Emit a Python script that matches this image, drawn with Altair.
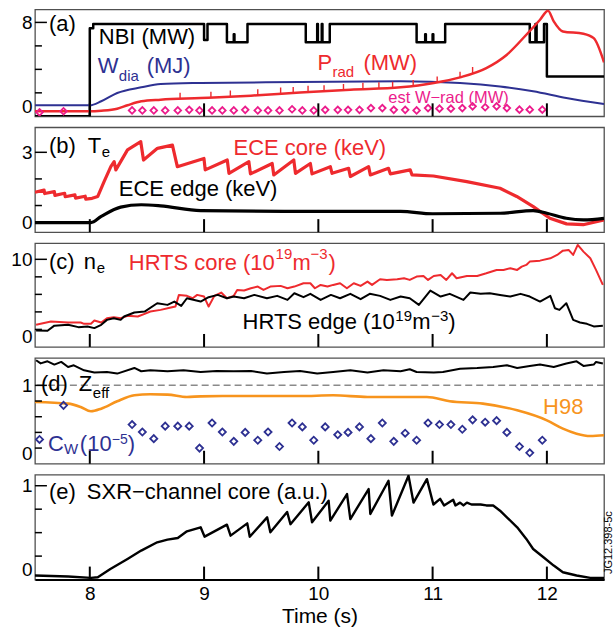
import altair as alt
import pandas as pd

FONT = "Liberation Sans"
RED = "#EE2A2E"
BLUE = "#2E3192"
MAGENTA = "#EC1C8C"
ORANGE = "#F7941D"

# ---------------- data ----------------
# (a) NBI (MW), step changes
nbi_t = [7.52, 8.00, 8.03, 9.00, 9.03, 9.20, 9.26, 9.266, 9.38, 9.89, 9.99, 9.996, 10.03, 10.036,
         10.10, 10.86, 10.935, 10.941, 11.0, 11.006, 11.11, 11.85, 11.90, 11.91, 11.975, 12.0, 12.5]
nbi_v = [0.0, 7.5, 7.86, 6.5, 7.86, 6.32, 7.0, 6.32, 7.86, 6.32, 7.86, 6.32, 7.86, 6.32,
         7.86, 6.32, 7.0, 6.32, 7.0, 6.32, 7.86, 6.32, 7.86, 6.32, 7.86, 3.4, 3.4]
# (a) P_rad (MW)
prad_t = [7.52, 8.0, 8.1, 8.24, 8.33, 8.45, 8.62, 8.97, 9.41, 9.84, 10.28, 10.72, 11.01, 11.24,
          11.47, 11.65, 11.82, 11.94, 12.01, 12.06, 12.14, 12.32, 12.41, 12.5]
prad_v = [0.43, 0.43, 0.48, 0.65, 0.94, 1.28, 1.42, 1.56, 1.76, 2.03, 2.27, 2.47, 2.84, 3.32,
          4.11, 5.25, 6.95, 8.23, 9.0, 8.09, 7.23, 7.04, 6.66, 4.6]
# (a) P_rad ELM spikes: time, foot, tip (MW)
elm_t = [8.79, 9.06, 9.23, 9.47, 9.67, 9.78, 9.91, 10.05, 10.22, 10.39, 10.53, 10.65, 10.83,
         11.04, 11.24, 11.35]
elm_lo = [1.5, 1.6, 1.68, 1.8, 1.92, 1.98, 2.06, 2.15, 2.24, 2.32, 2.38, 2.44, 2.6, 2.9, 3.32,
          3.7]
elm_hi = [2.0, 2.1, 2.2, 2.3, 2.45, 2.5, 2.6, 2.65, 2.75, 2.85, 2.9, 2.95, 3.1, 3.4, 3.8, 4.2]
# (a) W_dia (MJ)
wdia_t = [7.52, 8.0, 8.1, 8.24, 8.45, 8.62, 8.97, 9.84, 10.72, 11.24, 11.59, 11.88, 12.17, 12.5]
wdia_v = [0.94, 0.94, 1.28, 1.99, 2.47, 2.75, 2.84, 2.92, 2.98, 2.84, 2.55, 2.13, 1.56, 1.05]
# diamond sample times (shared by est W-rad and C_W)
dia_t = [7.56, 7.77, 8.37, 8.46, 8.56, 8.66, 8.77, 8.87, 8.96, 9.07, 9.16, 9.26, 9.36, 9.47,
         9.56, 9.66, 9.77, 9.86, 9.96, 10.06, 10.17, 10.26, 10.36, 10.46, 10.56, 10.66, 10.76,
         10.86, 10.96, 11.06, 11.16, 11.26, 11.35, 11.46, 11.56, 11.65, 11.76, 11.85, 11.96]
wrad_v = [0.34, 0.43, 0.5, 0.5, 0.5, 0.5, 0.5, 0.55, 0.5, 0.5, 0.5, 0.5, 0.55, 0.5, 0.5, 0.5,
          0.6, 0.5, 0.5, 0.55, 0.55, 0.55, 0.55, 0.7, 0.7, 0.55, 0.55, 0.5, 0.7, 0.65, 0.65,
          0.7, 0.85, 0.77, 0.85, 0.7, 0.57, 0.57, 0.57]
cw_v = [0.31, 0.745, 0.5, 0.405, 0.32, 0.48, 0.48, 0.48, 0.2, 0.52, 0.405, 0.286, 0.4, 0.3,
        0.405, 0.22, 0.52, 0.47, 0.3, 0.47, 0.37, 0.4, 0.47, 0.32, 0.52, 0.286, 0.39, 0.3,
        0.52, 0.5, 0.5, 0.44, 0.56, 0.53, 0.55, 0.4, 0.22, 0.14, 0.3]

# (b) ECE core / edge (keV)
ece_core_t = [7.52, 7.60, 7.605, 7.69, 7.695, 7.78, 7.785, 7.87, 7.875, 7.96, 7.965, 8.02, 8.07,
              8.125, 8.184, 8.213, 8.228, 8.33, 8.446, 8.47, 8.592, 8.723, 8.766, 8.999, 9.01,
              9.203, 9.218, 9.392, 9.406, 9.596, 9.61, 9.785, 9.80, 9.93, 9.945, 10.105, 10.12,
              10.265, 10.28, 10.44, 10.455, 10.614, 10.63, 10.804, 10.82, 11.007, 11.299, 11.59,
              11.736, 11.881, 12.026, 12.172, 12.318, 12.5]
ece_core_v = [1.5, 1.58, 1.45, 1.52, 1.38, 1.46, 1.33, 1.4, 1.28, 1.35, 1.24, 1.27, 1.34, 1.9,
              2.46, 2.65, 2.34, 3.09, 3.4, 2.71, 3.15, 3.27, 2.46, 2.77, 2.34, 2.71, 2.21, 2.65,
              2.19, 2.58, 2.15, 2.71, 2.21, 2.58, 2.19, 2.46, 2.21, 2.4, 2.09, 2.46, 2.15, 2.4,
              2.19, 2.34, 2.15, 2.11, 1.9, 1.65, 1.34, 0.96, 0.52, 0.31, 0.28, 0.46]
ece_edge_t = [7.52, 8.01, 8.1, 8.27, 8.45, 8.62, 8.97, 9.84, 10.72, 11.0, 11.59, 11.88, 12.0,
              12.17, 12.32, 12.5]
ece_edge_v = [0.36, 0.36, 0.59, 0.94, 1.03, 0.99, 0.81, 0.78, 0.78, 0.69, 0.71, 0.81, 0.71,
              0.52, 0.46, 0.52]

# (c) HRTS core / edge (1e19 m^-3)
hc_t = [7.53, 7.66, 7.81, 7.92, 7.95, 8.01, 8.04, 8.10, 8.15, 8.21, 8.27, 8.33, 8.42, 8.48, 8.53,
        8.62, 8.71, 8.75, 8.78, 8.85, 8.90, 8.94, 9.00, 9.04, 9.09, 9.15, 9.20, 9.26, 9.29, 9.35,
        9.41, 9.47, 9.52, 9.58, 9.67, 9.73, 9.79, 9.87, 9.93, 9.97, 10.02, 10.08, 10.13, 10.19,
        10.25, 10.31, 10.37, 10.43, 10.47, 10.54, 10.60, 10.69, 10.75, 10.80, 10.86, 10.92,
        10.96, 11.01, 11.07, 11.12, 11.17, 11.21, 11.30, 11.39, 11.47, 11.56, 11.62, 11.68,
        11.74, 11.78, 11.82, 11.85, 11.94, 12.03, 12.09, 12.14, 12.19, 12.23, 12.27, 12.32,
        12.38, 12.43, 12.49]
hc_v = [2.53, 2.9, 2.79, 2.79, 2.64, 2.64, 3.02, 2.79, 3.28, 3.4, 3.28, 3.55, 3.47, 3.78, 4.04,
        4.23, 4.5, 4.61, 5.94, 5.83, 5.56, 5.94, 5.75, 4.61, 5.83, 6.21, 5.56, 5.83, 6.51, 6.44,
        6.7, 6.89, 6.51, 6.89, 6.97, 6.7, 6.89, 7.27, 7.27, 6.7, 7.08, 6.89, 7.08, 7.27, 6.7,
        7.27, 6.97, 7.46, 7.08, 7.72, 7.65, 7.72, 7.84, 7.65, 8.03, 8.1, 7.65, 8.1, 8.22, 7.65,
        8.41, 7.84, 8.1, 8.1, 8.41, 8.79, 8.79, 8.98, 8.79, 9.17, 9.36, 9.74, 9.85, 10.12, 10.5,
        10.99, 11.07, 10.5, 11.64, 10.88, 10.12, 8.79, 7.08]
he_t = [7.53, 7.63, 7.69, 7.81, 7.90, 7.98, 8.04, 8.10, 8.15, 8.21, 8.27, 8.30, 8.39, 8.48, 8.59,
        8.68, 8.74, 8.80, 8.85, 8.97, 9.04, 9.12, 9.20, 9.26, 9.35, 9.44, 9.55, 9.64, 9.73, 9.79,
        9.87, 9.93, 10.02, 10.11, 10.19, 10.28, 10.37, 10.45, 10.54, 10.63, 10.72, 10.80, 10.88,
        10.98, 11.07, 11.15, 11.27, 11.33, 11.42, 11.50, 11.59, 11.68, 11.77, 11.85, 11.94,
        12.03, 12.07, 12.11, 12.17, 12.23, 12.29, 12.35, 12.41, 12.49]
he_v = [1.88, 1.84, 2.43, 2.53, 2.26, 2.34, 2.15, 2.53, 3.09, 3.28, 3.09, 3.47, 3.93, 4.04, 4.99,
        4.8, 5.18, 4.69, 5.56, 5.18, 5.68, 5.94, 5.56, 5.75, 5.56, 5.94, 5.56, 5.83, 5.37, 6.13,
        5.68, 6.06, 5.37, 5.94, 5.56, 6.06, 5.45, 6.06, 5.83, 5.37, 5.75, 5.56, 4.8, 6.44, 5.75,
        6.06, 5.37, 6.21, 6.06, 6.13, 5.94, 5.75, 6.06, 5.75, 5.18, 5.83, 4.42, 4.23, 4.99, 3.09,
        2.79, 2.64, 2.34, 2.43]

# (d) Zeff (scaled), H98
zeff_t = [7.53, 7.57, 7.63, 7.69, 7.75, 7.81, 7.86, 7.95, 8.04, 8.15, 8.24, 8.39, 8.45, 8.53,
          8.68, 8.82, 8.97, 9.11, 9.26, 9.41, 9.55, 9.70, 9.84, 9.99, 10.13, 10.28, 10.43,
          10.57, 10.72, 10.80, 10.86, 11.01, 11.09, 11.24, 11.39, 11.53, 11.65, 11.74, 11.85,
          11.94, 12.06, 12.17, 12.26, 12.32, 12.41, 12.43, 12.49]
zeff_v = [1.32, 1.28, 1.307, 1.265, 1.299, 1.235, 1.256, 1.192, 1.163, 1.171, 1.15, 1.222,
          1.18, 1.192, 1.18, 1.192, 1.171, 1.184, 1.18, 1.184, 1.15, 1.171, 1.184, 1.15, 1.171,
          1.192, 1.163, 1.192, 1.18, 1.205, 1.171, 1.163, 1.171, 1.213, 1.222, 1.235, 1.256,
          1.222, 1.248, 1.265, 1.235, 1.278, 1.307, 1.248, 1.265, 1.299, 1.28]
h98_t = [7.52, 7.81, 7.92, 8.01, 8.10, 8.24, 8.39, 8.53, 8.68, 8.85, 8.97, 9.26, 9.55, 9.84,
         10.13, 10.43, 10.72, 10.95, 11.15, 11.44, 11.74, 12.0, 12.14, 12.26, 12.38, 12.5]
h98_v = [0.788, 0.767, 0.724, 0.669, 0.703, 0.797, 0.873, 0.886, 0.882, 0.852, 0.86, 0.864,
         0.864, 0.864, 0.873, 0.852, 0.852, 0.852, 0.797, 0.767, 0.682, 0.554, 0.448, 0.384,
         0.354, 0.363]
ref_line = [1.0]

# (e) SXR core (a.u.)
sxr_t = [7.52, 7.81, 8.01, 8.07, 8.18, 8.33, 8.45, 8.59, 8.68, 8.77, 8.85, 8.97, 9.005, 9.20,
         9.232, 9.378, 9.40, 9.552, 9.58, 9.727, 9.756, 9.916, 9.945, 10.09, 10.105, 10.251,
         10.28, 10.44, 10.455, 10.614, 10.644, 10.789, 10.833, 10.95, 11.007, 11.066, 11.1,
         11.18, 11.2, 11.24, 11.27, 11.30, 11.34, 11.42, 11.47, 11.53, 11.59, 11.65, 11.74,
         11.82, 11.88, 11.97, 12.06, 12.14, 12.26, 12.38, 12.5]
sxr_v = [0.043, 0.032, 0.018, 0.025, 0.113, 0.22, 0.309, 0.397, 0.426, 0.443, 0.514, 0.557,
         0.457, 0.585, 0.468, 0.599, 0.457, 0.663, 0.504, 0.72, 0.59, 0.823, 0.61, 0.84, 0.628,
         0.911, 0.645, 0.965, 0.699, 1.053, 0.681, 1.106, 0.82, 1.07, 0.80, 0.86, 0.79, 0.85,
         0.79, 0.82, 0.79, 0.82, 0.8, 0.8, 0.79, 0.79, 0.734, 0.663, 0.557, 0.433, 0.326, 0.238,
         0.149, 0.078, 0.043, 0.018, 0.018]

x_ticks = [8, 9, 10, 11, 12]

# ---------------- helpers ----------------
W = 570
XS = alt.Scale(domain=[7.52, 12.5], nice=False, zero=False)
TS = 22  # annotation font size


def df(t, v):
    return pd.DataFrame({"t": t, "v": v, "i": list(range(len(t)))})


class Panel:
    def __init__(self, top, labels, h, bottom=False):
        self.ys = alt.Scale(domain=[0, top], nice=False, zero=False)
        self.h = h
        self.yax = alt.Axis(values=labels, format="d", ticks=False, domain=False, grid=False,
                            title=None, labelFont=FONT, labelFontSize=19, labelColor="black",
                            labelPadding=3, labelFlush=True, minExtent=30, maxExtent=30)
        if bottom:
            self.xax = alt.Axis(values=x_ticks, format="d", ticks=False, domain=True,
                                domainColor="black", domainWidth=2, grid=False, title="Time (s)",
                                labelFont=FONT, labelFontSize=19, labelColor="black",
                                labelPadding=5, labelFlush=False, titleFont=FONT,
                                titleFontSize=21, titleFontWeight="normal", titleColor="black",
                                titlePadding=2)
        else:
            self.xax = None

    def X(self):
        return alt.X("t:Q", scale=XS, axis=self.xax)

    def Y(self, field="v"):
        return alt.Y(f"{field}:Q", scale=self.ys, axis=self.yax)

    def line(self, t, v, color, width, interp="linear"):
        return alt.Chart(df(t, v)).mark_line(
            color=color, strokeWidth=width, interpolate=interp, clip=True, strokeJoin="round"
        ).encode(x=self.X(), y=self.Y(), order=alt.Order("i:Q"))

    def spikes(self, t, lo, hi, color, width):
        d = pd.DataFrame({"t": t, "v": lo, "v2": hi})
        return alt.Chart(d).mark_rule(color=color, strokeWidth=width, clip=True).encode(
            x=self.X(), y=self.Y(), y2="v2:Q")

    def diamonds(self, t, v, color, size):
        return alt.Chart(df(t, v)).mark_point(
            shape="diamond", filled=False, size=size, strokeWidth=1.8, color=color, clip=True,
            opacity=1
        ).encode(x=self.X(), y=self.Y())

    def hrule(self, vals, **kw):
        return alt.Chart(pd.DataFrame({"v": vals})).mark_rule(**kw).encode(y=self.Y())

    def frame(self, major, minor):
        maj = alt.Chart(pd.DataFrame({"v": major})).mark_rule(
            color="black", strokeWidth=1.5).encode(y=self.Y(), x=alt.value(0), x2=alt.value(12))
        mino = alt.Chart(pd.DataFrame({"v": minor})).mark_rule(
            color="black", strokeWidth=1.5).encode(y=self.Y(), x=alt.value(0), x2=alt.value(7))
        xt = alt.Chart(pd.DataFrame({"t": x_ticks})).mark_rule(
            color="black", strokeWidth=2).encode(
            x=self.X(), y=alt.value(self.h), y2=alt.value(self.h - 13))
        return [maj, mino, xt]


def txt(s, x, y, color="black", size=TS, **kw):
    return alt.Chart(pd.DataFrame({"s": [s]})).mark_text(
        align="left", baseline="alphabetic", font=FONT, fontSize=size, color=color, **kw
    ).encode(x=alt.value(x), y=alt.value(y), text="s:N")


# ---------------- panel (a) ----------------
A = Panel(9.1, [0, 8], 107)
pa = alt.layer(
    A.line(nbi_t, nbi_v, "black", 2.5, "step-after"),
    A.line(wdia_t, wdia_v, BLUE, 2.0, "monotone"),
    A.line(prad_t, prad_v, RED, 2.5, "monotone"),
    A.spikes(elm_t, elm_lo, elm_hi, RED, 1.4),
    A.diamonds(dia_t, wrad_v, MAGENTA, 44),
    *A.frame([8], [2, 4, 6]),
    txt("(a)", 14, 21.5),
    txt("NBI (MW)", 64, 34.7),
    txt("W", 63, 63.5, BLUE),
    txt("dia", 84, 72, BLUE, 15),
    txt("(MJ)", 112, 63.5, BLUE),
    txt("P", 283, 61, RED),
    txt("rad", 298, 67.5, RED, 15),
    txt("(MW)", 329, 61, RED),
    txt("est W\u2212rad (MW)", 354, 93.7, MAGENTA, 16.5),
).properties(width=W, height=A.h)

# ---------------- panel (b) ----------------
B = Panel(3.94, [0, 3], 105)
pb = alt.layer(
    B.line(ece_core_t, ece_core_v, RED, 3.2),
    B.line(ece_edge_t, ece_edge_v, "black", 3.2, "monotone"),
    *B.frame([3], [1, 2]),
    txt("(b)", 14, 26),
    txt("T", 53, 26),
    txt("e", 67, 30, "black", 15),
    txt("ECE core (keV)", 199, 27.3, RED),
    txt("ECE edge (keV)", 84, 69),
).properties(width=W, height=B.h)

# ---------------- panel (c) ----------------
C = Panel(11.85, [0, 10], 104)
pc = alt.layer(
    C.line(hc_t, hc_v, RED, 2.0),
    C.line(he_t, he_v, "black", 2.0),
    *C.frame([10], [2, 4, 6, 8]),
    txt("(c)", 14, 26.3),
    txt("n", 49, 26.3),
    txt("e", 62, 30.3, "black", 15),
    txt("HRTS core (10", 94, 27.3, RED),
    txt("19", 241, 16.3, RED, 15),
    txt("m", 258, 27.3, RED),
    txt("\u22123", 276, 16.3, RED, 15),
    txt(")", 294, 27.3, RED),
    txt("HRTS edge (10", 208, 85.7),
    txt("19", 361, 78, "black", 15),
    txt("m", 378, 85.7),
    txt("\u22123", 397, 78, "black", 15),
    txt(")", 414, 85.7),
).properties(width=W, height=C.h)

# ---------------- panel (d) ----------------
D = Panel(1.35, [0, 1], 106)
pd_ = alt.layer(
    D.hrule(ref_line, color="#8a8a8a", strokeWidth=1.5, strokeDash=[7, 4]),
    D.line(zeff_t, zeff_v, "black", 2.0),
    D.line(h98_t, h98_v, ORANGE, 2.6, "monotone"),
    D.diamonds(dia_t, cw_v, BLUE, 50),
    *D.frame([1], [0.2, 0.4, 0.6, 0.8]),
    txt("(d)", 6, 33),
    txt("Z", 44, 33),
    txt("eff", 58, 39.7, "black", 15),
    txt("H98", 509, 56.3, ORANGE),
    txt("C", 13, 93, BLUE),
    txt("W", 29, 96.3, BLUE, 15),
    txt("(10", 45, 93, BLUE),
    txt("\u22125", 77, 86.3, BLUE, 14),
    txt(")", 93, 93, BLUE),
).properties(width=W, height=D.h)

# ---------------- panel (e) ----------------
E = Panel(1.117, [0, 1], 105, bottom=True)
pe = alt.layer(
    E.line(sxr_t, sxr_v, "black", 2.4),
    *E.frame([1], [0.25, 0.5, 0.75]),
    txt("(e)", 14, 24.3),
    txt("SXR\u2212channel core (a.u.)", 52, 24.3),
    alt.Chart(pd.DataFrame({"s": ["JG12.398-5c"]})).mark_text(
        align="center", baseline="middle", font=FONT, fontSize=11, angle=270, color="black"
    ).encode(x=alt.value(575), y=alt.value(68), text="s:N"),
).properties(width=W, height=E.h)

chart = alt.vconcat(pa, pb, pc, pd_, pe, spacing=11, bounds="flush").properties(
    padding={"left": 4, "top": 8, "right": 0, "bottom": 0}
).configure_view(stroke="#505050", strokeWidth=1.3)

chart.save("out.html", embed_options={"renderer": "svg", "actions": False})
